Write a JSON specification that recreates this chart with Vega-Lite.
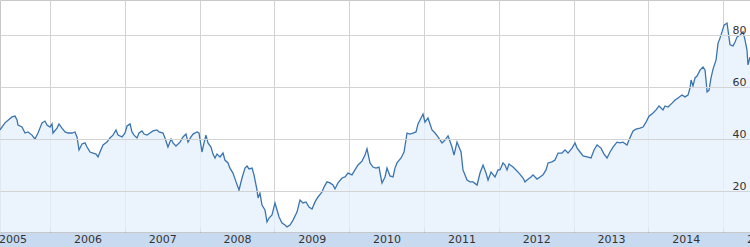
{
  "$schema": "https://vega.github.io/schema/vega-lite/v6.json",
  "width": 750,
  "height": 232,
  "autosize": {"type": "none"},
  "padding": {"left": 0, "top": 0, "right": 0, "bottom": 15},
  "background": "#c8daf0",
  "config": {
    "view": {"fill": "#ffffff", "stroke": "#c8c8c8", "strokeWidth": 1},
    "axis": {"labelFont": "DejaVu Sans", "labelFontSize": 11, "labelColor": "#333333", "domain": false}
  },
  "data": {"values": [
    {"year": 2005.332, "price": 43.5},
    {"year": 2005.398, "price": 46.2},
    {"year": 2005.492, "price": 48.5},
    {"year": 2005.532, "price": 48.8},
    {"year": 2005.559, "price": 47.3},
    {"year": 2005.572, "price": 45.4},
    {"year": 2005.626, "price": 44.6},
    {"year": 2005.666, "price": 42.3},
    {"year": 2005.706, "price": 42.7},
    {"year": 2005.759, "price": 41.5},
    {"year": 2005.799, "price": 40.0},
    {"year": 2005.840, "price": 42.3},
    {"year": 2005.893, "price": 46.2},
    {"year": 2005.933, "price": 46.9},
    {"year": 2005.960, "price": 45.4},
    {"year": 2006.000, "price": 44.6},
    {"year": 2006.027, "price": 45.8},
    {"year": 2006.040, "price": 42.3},
    {"year": 2006.094, "price": 44.2},
    {"year": 2006.120, "price": 45.8},
    {"year": 2006.160, "price": 44.2},
    {"year": 2006.201, "price": 42.7},
    {"year": 2006.241, "price": 42.3},
    {"year": 2006.294, "price": 42.3},
    {"year": 2006.334, "price": 42.7},
    {"year": 2006.361, "price": 40.8},
    {"year": 2006.388, "price": 35.8},
    {"year": 2006.428, "price": 38.1},
    {"year": 2006.468, "price": 38.5},
    {"year": 2006.495, "price": 36.9},
    {"year": 2006.535, "price": 35.0},
    {"year": 2006.575, "price": 34.6},
    {"year": 2006.615, "price": 34.2},
    {"year": 2006.642, "price": 33.1},
    {"year": 2006.668, "price": 35.0},
    {"year": 2006.709, "price": 37.7},
    {"year": 2006.762, "price": 38.8},
    {"year": 2006.802, "price": 40.4},
    {"year": 2006.842, "price": 41.5},
    {"year": 2006.882, "price": 43.5},
    {"year": 2006.909, "price": 41.5},
    {"year": 2006.963, "price": 40.8},
    {"year": 2007.003, "price": 42.3},
    {"year": 2007.030, "price": 45.0},
    {"year": 2007.070, "price": 45.8},
    {"year": 2007.096, "price": 42.7},
    {"year": 2007.123, "price": 41.5},
    {"year": 2007.163, "price": 40.4},
    {"year": 2007.190, "price": 42.3},
    {"year": 2007.230, "price": 43.1},
    {"year": 2007.257, "price": 41.9},
    {"year": 2007.297, "price": 41.5},
    {"year": 2007.337, "price": 42.3},
    {"year": 2007.377, "price": 43.1},
    {"year": 2007.430, "price": 43.5},
    {"year": 2007.457, "price": 42.7},
    {"year": 2007.511, "price": 42.3},
    {"year": 2007.537, "price": 40.4},
    {"year": 2007.577, "price": 36.9},
    {"year": 2007.618, "price": 40.0},
    {"year": 2007.644, "price": 38.5},
    {"year": 2007.684, "price": 37.3},
    {"year": 2007.738, "price": 38.8},
    {"year": 2007.778, "price": 40.8},
    {"year": 2007.818, "price": 41.9},
    {"year": 2007.845, "price": 38.8},
    {"year": 2007.885, "price": 40.8},
    {"year": 2007.912, "price": 41.9},
    {"year": 2007.965, "price": 42.7},
    {"year": 2007.992, "price": 42.3},
    {"year": 2008.032, "price": 35.0},
    {"year": 2008.059, "price": 38.5},
    {"year": 2008.085, "price": 41.5},
    {"year": 2008.112, "price": 38.5},
    {"year": 2008.152, "price": 36.9},
    {"year": 2008.179, "price": 34.2},
    {"year": 2008.206, "price": 32.7},
    {"year": 2008.232, "price": 34.2},
    {"year": 2008.273, "price": 33.1},
    {"year": 2008.313, "price": 34.6},
    {"year": 2008.339, "price": 31.9},
    {"year": 2008.380, "price": 30.8},
    {"year": 2008.406, "price": 28.8},
    {"year": 2008.446, "price": 26.9},
    {"year": 2008.487, "price": 23.5},
    {"year": 2008.527, "price": 20.4},
    {"year": 2008.567, "price": 25.0},
    {"year": 2008.607, "price": 28.8},
    {"year": 2008.634, "price": 29.6},
    {"year": 2008.661, "price": 28.5},
    {"year": 2008.701, "price": 28.8},
    {"year": 2008.727, "price": 26.2},
    {"year": 2008.767, "price": 20.4},
    {"year": 2008.781, "price": 17.3},
    {"year": 2008.807, "price": 19.2},
    {"year": 2008.834, "price": 14.6},
    {"year": 2008.874, "price": 12.7},
    {"year": 2008.901, "price": 8.1},
    {"year": 2008.928, "price": 9.6},
    {"year": 2008.968, "price": 10.8},
    {"year": 2009.008, "price": 15.4},
    {"year": 2009.035, "price": 12.7},
    {"year": 2009.062, "price": 10.0},
    {"year": 2009.102, "price": 7.7},
    {"year": 2009.142, "price": 6.9},
    {"year": 2009.168, "price": 6.2},
    {"year": 2009.209, "price": 6.9},
    {"year": 2009.249, "price": 8.8},
    {"year": 2009.302, "price": 11.9},
    {"year": 2009.342, "price": 16.5},
    {"year": 2009.382, "price": 15.4},
    {"year": 2009.422, "price": 15.8},
    {"year": 2009.463, "price": 13.8},
    {"year": 2009.503, "price": 13.1},
    {"year": 2009.543, "price": 15.8},
    {"year": 2009.583, "price": 17.7},
    {"year": 2009.636, "price": 19.6},
    {"year": 2009.663, "price": 21.5},
    {"year": 2009.703, "price": 23.5},
    {"year": 2009.743, "price": 23.1},
    {"year": 2009.783, "price": 22.3},
    {"year": 2009.810, "price": 20.8},
    {"year": 2009.850, "price": 23.1},
    {"year": 2009.904, "price": 25.0},
    {"year": 2009.944, "price": 25.4},
    {"year": 2009.984, "price": 26.9},
    {"year": 2010.037, "price": 26.2},
    {"year": 2010.077, "price": 28.1},
    {"year": 2010.118, "price": 30.0},
    {"year": 2010.171, "price": 31.5},
    {"year": 2010.211, "price": 33.8},
    {"year": 2010.238, "price": 36.2},
    {"year": 2010.278, "price": 30.8},
    {"year": 2010.318, "price": 29.2},
    {"year": 2010.358, "price": 28.8},
    {"year": 2010.398, "price": 29.2},
    {"year": 2010.438, "price": 23.1},
    {"year": 2010.479, "price": 25.4},
    {"year": 2010.505, "price": 28.8},
    {"year": 2010.545, "price": 25.8},
    {"year": 2010.586, "price": 25.4},
    {"year": 2010.612, "price": 28.8},
    {"year": 2010.639, "price": 30.8},
    {"year": 2010.693, "price": 32.7},
    {"year": 2010.733, "price": 35.0},
    {"year": 2010.773, "price": 42.3},
    {"year": 2010.813, "price": 41.9},
    {"year": 2010.853, "price": 42.3},
    {"year": 2010.893, "price": 42.7},
    {"year": 2010.920, "price": 45.8},
    {"year": 2010.960, "price": 48.1},
    {"year": 2010.987, "price": 49.6},
    {"year": 2011.013, "price": 46.5},
    {"year": 2011.053, "price": 48.1},
    {"year": 2011.107, "price": 43.5},
    {"year": 2011.147, "price": 42.3},
    {"year": 2011.187, "price": 40.8},
    {"year": 2011.241, "price": 38.5},
    {"year": 2011.281, "price": 39.6},
    {"year": 2011.321, "price": 41.2},
    {"year": 2011.374, "price": 36.9},
    {"year": 2011.401, "price": 33.8},
    {"year": 2011.441, "price": 38.8},
    {"year": 2011.495, "price": 35.0},
    {"year": 2011.521, "price": 28.1},
    {"year": 2011.575, "price": 24.2},
    {"year": 2011.615, "price": 23.5},
    {"year": 2011.655, "price": 23.5},
    {"year": 2011.709, "price": 22.3},
    {"year": 2011.749, "price": 26.9},
    {"year": 2011.789, "price": 30.0},
    {"year": 2011.829, "price": 26.9},
    {"year": 2011.856, "price": 24.2},
    {"year": 2011.896, "price": 27.3},
    {"year": 2011.949, "price": 25.4},
    {"year": 2011.989, "price": 28.1},
    {"year": 2012.016, "price": 28.1},
    {"year": 2012.056, "price": 30.8},
    {"year": 2012.083, "price": 30.0},
    {"year": 2012.110, "price": 28.1},
    {"year": 2012.136, "price": 30.4},
    {"year": 2012.190, "price": 29.2},
    {"year": 2012.230, "price": 28.1},
    {"year": 2012.270, "price": 26.9},
    {"year": 2012.324, "price": 25.0},
    {"year": 2012.350, "price": 23.5},
    {"year": 2012.377, "price": 24.2},
    {"year": 2012.430, "price": 25.4},
    {"year": 2012.457, "price": 26.2},
    {"year": 2012.511, "price": 24.6},
    {"year": 2012.551, "price": 25.4},
    {"year": 2012.591, "price": 26.2},
    {"year": 2012.631, "price": 28.1},
    {"year": 2012.658, "price": 30.8},
    {"year": 2012.711, "price": 31.2},
    {"year": 2012.751, "price": 31.9},
    {"year": 2012.792, "price": 34.6},
    {"year": 2012.845, "price": 34.6},
    {"year": 2012.885, "price": 35.8},
    {"year": 2012.925, "price": 34.6},
    {"year": 2012.979, "price": 36.5},
    {"year": 2013.019, "price": 38.5},
    {"year": 2013.046, "price": 36.5},
    {"year": 2013.086, "price": 35.0},
    {"year": 2013.126, "price": 33.5},
    {"year": 2013.179, "price": 33.1},
    {"year": 2013.233, "price": 32.7},
    {"year": 2013.273, "price": 35.8},
    {"year": 2013.313, "price": 37.7},
    {"year": 2013.366, "price": 36.5},
    {"year": 2013.407, "price": 34.2},
    {"year": 2013.447, "price": 32.7},
    {"year": 2013.487, "price": 35.0},
    {"year": 2013.527, "price": 36.9},
    {"year": 2013.580, "price": 38.8},
    {"year": 2013.620, "price": 38.5},
    {"year": 2013.660, "price": 38.8},
    {"year": 2013.714, "price": 37.7},
    {"year": 2013.740, "price": 39.6},
    {"year": 2013.794, "price": 43.1},
    {"year": 2013.834, "price": 43.8},
    {"year": 2013.888, "price": 44.2},
    {"year": 2013.928, "price": 44.6},
    {"year": 2013.968, "price": 46.5},
    {"year": 2014.008, "price": 48.8},
    {"year": 2014.062, "price": 50.0},
    {"year": 2014.102, "price": 51.2},
    {"year": 2014.142, "price": 52.7},
    {"year": 2014.195, "price": 51.2},
    {"year": 2014.222, "price": 52.7},
    {"year": 2014.262, "price": 52.3},
    {"year": 2014.316, "price": 53.8},
    {"year": 2014.356, "price": 55.0},
    {"year": 2014.396, "price": 55.8},
    {"year": 2014.449, "price": 56.9},
    {"year": 2014.489, "price": 56.2},
    {"year": 2014.529, "price": 56.9},
    {"year": 2014.556, "price": 59.6},
    {"year": 2014.570, "price": 62.7},
    {"year": 2014.596, "price": 60.4},
    {"year": 2014.623, "price": 63.5},
    {"year": 2014.650, "price": 64.2},
    {"year": 2014.690, "price": 66.5},
    {"year": 2014.730, "price": 67.7},
    {"year": 2014.757, "price": 66.5},
    {"year": 2014.770, "price": 62.7},
    {"year": 2014.784, "price": 58.1},
    {"year": 2014.810, "price": 58.8},
    {"year": 2014.837, "price": 63.5},
    {"year": 2014.864, "price": 66.9},
    {"year": 2014.904, "price": 70.4},
    {"year": 2014.931, "price": 76.9},
    {"year": 2014.957, "price": 78.8},
    {"year": 2014.984, "price": 81.2},
    {"year": 2015.011, "price": 83.8},
    {"year": 2015.051, "price": 84.6},
    {"year": 2015.064, "price": 81.9},
    {"year": 2015.091, "price": 76.2},
    {"year": 2015.131, "price": 75.8},
    {"year": 2015.158, "price": 77.3},
    {"year": 2015.184, "price": 79.2},
    {"year": 2015.225, "price": 80.0},
    {"year": 2015.265, "price": 81.2},
    {"year": 2015.291, "price": 78.1},
    {"year": 2015.318, "price": 74.2},
    {"year": 2015.331, "price": 68.5},
    {"year": 2015.358, "price": 71.5}
  ]},
  "layer": [
    {
      "mark": {"type": "area", "color": "#e6f1fb", "opacity": 0.8, "clip": true},
      "encoding": {
        "x": {
          "field": "year", "type": "quantitative",
          "scale": {"domain": [2005.3316, 2015.358], "nice": false, "zero": false},
          "axis": {
            "orient": "bottom", "title": null,
            "values": [2006, 2007, 2008, 2009, 2010, 2011, 2012, 2013, 2014, 2015],
            "grid": true, "gridColor": "#d3d3d3", "gridWidth": 1,
            "ticks": true, "tickSize": -4, "tickColor": "#999999",
            "labelExpr": "floor(datum.value)", "labelOffset": 37.4,
            "labelPadding": 11.5, "labelBaseline": "middle",
            "labelFlush": false, "labelOverlap": false, "labelBound": false
          }
        },
        "y": {
          "field": "price", "type": "quantitative",
          "scale": {"domain": [4.23, 93.46], "nice": false, "zero": false},
          "axis": {
            "orient": "right", "title": null, "values": [20, 40, 60, 80],
            "grid": true, "gridColor": "#d3d3d3", "ticks": false,
            "labelAlign": "right", "labelPadding": -4, "labelBaseline": "alphabetic",
            "labelOffset": -1, "zindex": 1
          }
        }
      }
    },
    {
      "mark": {"type": "line", "color": "#3a74b0", "strokeWidth": 1.3, "clip": true},
      "encoding": {
        "x": {
          "field": "year", "type": "quantitative",
          "scale": {"domain": [2005.3316, 2015.358], "nice": false, "zero": false},
          "axis": {
            "orient": "bottom", "title": null, "values": [2005.5],
            "grid": false, "ticks": false,
            "labelExpr": "floor(datum.value)",
            "labelPadding": 7.5, "labelBaseline": "middle",
            "labelFlush": false, "labelOverlap": false, "labelBound": false
          }
        },
        "y": {
          "field": "price", "type": "quantitative",
          "scale": {"domain": [4.23, 93.46], "nice": false, "zero": false},
          "axis": {
            "orient": "right", "title": null, "values": [20, 40, 60, 80],
            "grid": true, "gridColor": "#d3d3d3", "ticks": false,
            "labelAlign": "right", "labelPadding": -4, "labelBaseline": "alphabetic",
            "labelOffset": -1, "zindex": 1
          }
        }
      }
    }
  ],
  "resolve": {"axis": {"x": "independent"}}
}
